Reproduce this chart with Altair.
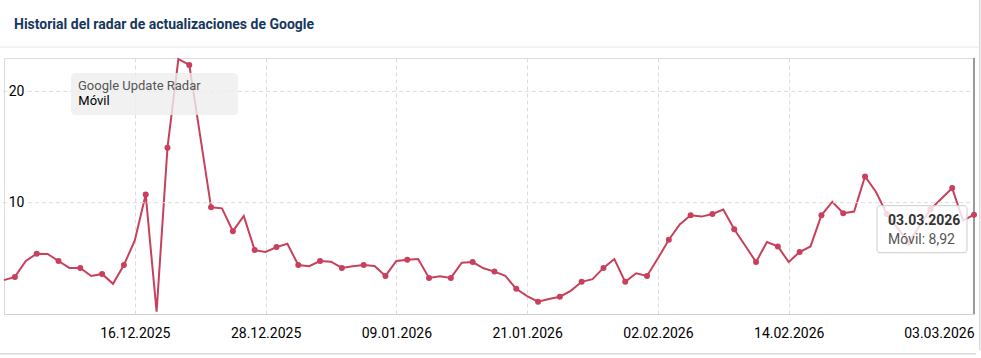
import altair as alt
import pandas as pd

# ---------------- data ----------------
title_text = "Historial del radar de actualizaciones de Google"
legend_title = "Google Update Radar"
series_name = "Móvil"

start_date = "2025-12-04"
end_date = "2026-03-03"
dates = pd.date_range(start_date, end_date, freq="D").strftime("%Y-%m-%d").tolist()

values = [
    3.04, 3.33, 4.76, 5.42, 5.39, 4.76, 4.14, 4.14, 3.42, 3.60,
    2.71, 4.40, 6.61, 10.74, 0.20, 14.94, 22.90, 22.38, 16.00, 9.58,
    9.49, 7.44, 8.81, 5.74, 5.57, 6.01, 6.31, 4.40, 4.29, 4.76,
    4.70, 4.14, 4.29, 4.40, 4.32, 3.42, 4.76, 4.88, 4.94, 3.24,
    3.39, 3.24, 4.61, 4.67, 4.11, 3.81, 3.42, 2.26, 1.61, 1.10,
    1.34, 1.55, 2.08, 2.89, 3.13, 4.14, 4.94, 2.89, 3.66, 3.42,
    5.00, 6.67, 8.04, 8.87, 8.75, 8.99, 9.38, 7.62, 6.16, 4.67,
    6.46, 6.07, 4.67, 5.57, 6.07, 8.87, 10.09, 9.05, 9.20, 12.35,
    10.98, 8.99, 7.70, 6.43, 7.90, 9.40, 10.35, 11.31, 8.39, 8.92,
]

# x-axis tick dates (year, month, day)
tick_dates = [(2025, 12, 16), (2025, 12, 28), (2026, 1, 9), (2026, 1, 21),
              (2026, 2, 2), (2026, 2, 14), (2026, 3, 3)]
y_ticks = [10, 20]
y_max = 23.0

line_color = "#c8405c"
W, H = 970, 256

df = pd.DataFrame({"date": dates, "value": values, "serie": series_name})
df["marker"] = [i % 2 == 1 for i in range(len(df))]
df["last"] = [i == len(df) - 1 for i in range(len(df))]

x_axis = alt.Axis(
    values=[alt.DateTime(year=y, month=m, date=d, utc=True) for (y, m, d) in tick_dates],
    labelExpr="utcFormat(datum.value, '%d.%m.%Y')", title=None,
    grid=True, gridColor="#dcdcdc", gridDash=[4, 3], gridWidth=1,
    ticks=False, domain=True, domainColor="#d0d0d0", domainWidth=1,
    labelFlush=True, labelOverlap=False, labelPadding=12,
    labelFont="Roboto", labelFontSize=14, labelColor="#000000",
)
x_scale = alt.Scale(type="utc", nice=False, padding=0)
x_enc = alt.X("date:T", scale=x_scale, axis=x_axis)

y_axis = alt.Axis(
    values=y_ticks, title=None, grid=False, ticks=False, domain=False,
    labelPadding=-20, labelAlign="right", labelBaseline="middle",
    labelFont="Roboto", labelFontSize=14, labelColor="#000000",
)
y_scale = alt.Scale(domain=[0, y_max], nice=False, zero=True)
y_enc = alt.Y("value:Q", scale=y_scale, axis=y_axis)

color_enc = alt.Color(
    "serie:N",
    scale=alt.Scale(domain=[series_name], range=[line_color]),
    legend=alt.Legend(
        title=legend_title + "\u2800" * 3, orient="none", legendX=67, legendY=15,
        fillColor="rgba(238,238,238,0.8)", cornerRadius=4, padding=7,
        titleFont="Roboto", titleFontSize=13, titleFontWeight="normal", titleColor="#555555",
        titlePadding=1, labelFont="Roboto", labelFontSize=13, labelColor="#000000",
        labelAlign="center", labelOffset=3,
        symbolType="circle", symbolSize=1, symbolOpacity=0, symbolStrokeWidth=0,
    ),
)

base = alt.Chart(df)

# horizontal grid lines (gap where the labels sit)
grid_df = pd.DataFrame({"v": y_ticks})
hgrid_main = alt.Chart(grid_df).mark_rule(color="#dcdcdc", strokeDash=[4, 3], strokeWidth=1).encode(
    y=alt.Y("v:Q", scale=y_scale, axis=y_axis), x=alt.value(24), x2=alt.value(W)
)
hgrid_stub = alt.Chart(grid_df).mark_rule(color="#dcdcdc", strokeWidth=1).encode(
    y=alt.Y("v:Q", scale=y_scale, axis=y_axis), x=alt.value(-1), x2=alt.value(3)
)

crosshair = base.transform_filter("datum.last").mark_rule(color="#9a9a9a", strokeWidth=2).encode(
    x=x_enc, y=alt.value(0), y2=alt.value(H)
)

line = base.mark_line(strokeWidth=2).encode(x=x_enc, y=y_enc, color=color_enc)
points = base.transform_filter("datum.marker").mark_circle(size=36, opacity=1).encode(
    x=x_enc, y=y_enc, color=alt.value(line_color)
)

tip_base = base.transform_filter("datum.last").transform_calculate(
    tipdate="utcFormat(toDate(datum.date), '%d.%m.%Y')",
    tipval="'" + series_name + ": ' + replace(format(datum.value, '.2f'), '.', ',')",
)
tip_box = tip_base.mark_rect(
    fill="white", fillOpacity=0.8, stroke="#cccccc", strokeWidth=1, cornerRadius=3,
    xOffset=-97, x2Offset=-7, yOffset=-9, y2Offset=38,
).encode(x=x_enc, x2="date:T", y=y_enc, y2="value:Q")
tip_date = tip_base.mark_text(
    align="left", baseline="middle", dx=-86, dy=6, font="Roboto", fontSize=14,
    fontWeight="bold", color="#333333",
).encode(x=x_enc, y=y_enc, text="tipdate:N")
tip_val = tip_base.mark_text(
    align="left", baseline="middle", dx=-86, dy=25, font="Roboto", fontSize=14, color="#555555",
).encode(x=x_enc, y=y_enc, text="tipval:N")

# card decoration (separator and border)
deco_df = pd.DataFrame({"k": [0]})
sep = alt.Chart(deco_df).mark_rule(color="#e6e6e6", strokeWidth=1).encode(
    x=alt.value(-4), x2=alt.value(975), y=alt.value(-11)
)
right_border = alt.Chart(deco_df).mark_rule(color="#d9d9d9", strokeWidth=1).encode(
    x=alt.value(975.5), y=alt.value(-58), y2=alt.value(292)
)
right_shadow = alt.Chart(deco_df).mark_rule(color="#eeeeee", strokeWidth=1).encode(
    x=alt.value(976.5), y=alt.value(-58), y2=alt.value(293)
)
bottom_border = alt.Chart(deco_df).mark_rule(color="#d9d9d9", strokeWidth=1).encode(
    x=alt.value(-4), x2=alt.value(972), y=alt.value(295.5)
)
bottom_shadow = alt.Chart(deco_df).mark_rule(color="#eeeeee", strokeWidth=1).encode(
    x=alt.value(-4), x2=alt.value(972), y=alt.value(296.5)
)

chart = alt.layer(
    line, sep, right_border, right_shadow, bottom_border, bottom_shadow,
    hgrid_main, hgrid_stub, crosshair, points, tip_box, tip_date, tip_val,
).properties(
    width=W, height=H,
    title=alt.TitleParams(
        text=title_text, anchor="start", frame="group", dx=10, offset=-43,
        baseline="alphabetic", font="Roboto", fontSize=14, fontWeight="bold", color="#17375e",
    ),
    autosize=alt.AutoSizeParams(type="none"),
    padding={"left": 4, "top": 58, "right": 7, "bottom": 44},
).configure_view(stroke=None).configure(background="white")

chart.save("out.html", embed_options={"renderer": "svg", "actions": False})
